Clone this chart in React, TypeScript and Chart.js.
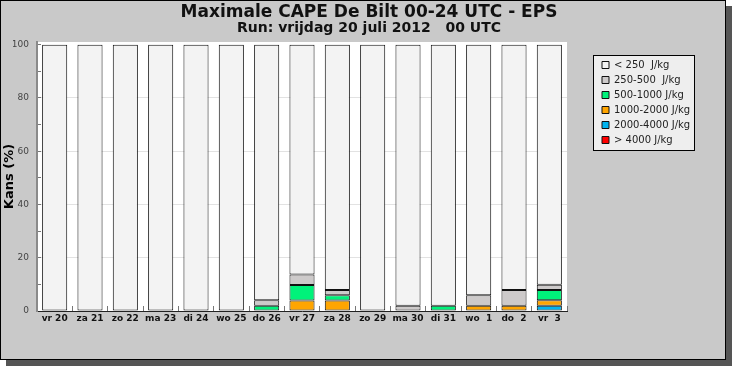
import React, { useEffect, useRef } from 'react';
import { Chart, registerables } from 'chart.js';

Chart.register(...registerables);

const categories = ['vr 20', 'za 21', 'zo 22', 'ma 23', 'di 24', 'wo 25', 'do 26', 'vr 27', 'za 28', 'zo 29', 'ma 30', 'di 31', 'wo  1', 'do  2', 'vr  3'];

const above4000 = [0, 0, 0, 0, 0, 0, 0, 0, 0, 0, 0, 0, 0, 0, 0];
const cape2000to4000 = [0, 0, 0, 0, 0, 0, 0, 0, 0, 0, 0, 0, 0, 0, 2];
const cape1000to2000 = [0, 0, 0, 0, 0, 0, 0, 3.9, 3.9, 0, 0, 0, 2, 2, 2];
const cape500to1000 = [0, 0, 0, 0, 0, 0, 2, 5.9, 2, 0, 0, 2, 0, 0, 3.9];
const cape250to500 = [0, 0, 0, 0, 0, 0, 2, 3.9, 2, 0, 2, 0, 3.9, 5.9, 2];
const below250 = [100, 100, 100, 100, 100, 100, 96, 86.3, 92.1, 100, 98, 98, 94.1, 92.1, 90.1];

const yTickValues = [0, 10, 20, 30, 40, 50, 60, 70, 80, 90, 100];

const seriesLabels = ['> 4000 J/kg', '2000-4000 J/kg', '1000-2000 J/kg', '500-1000 J/kg', '250-500  J/kg', '< 250  J/kg'];
const seriesColors = ['#ff0000', '#00b4f0', '#ffa500', '#00f27a', '#cdcaca', '#f3f3f3'];

const titleText = 'Maximale CAPE De Bilt 00-24 UTC - EPS';
const subtitleText = 'Run: vrijdag 20 juli 2012   00 UTC';
const yTitle = 'Kans (%)';

const framePlugin = {
  id: 'frame',
  afterLayout(chart: any) {
    const lg = chart.legend;
    const a = chart.chartArea;
    if (lg && a) {
      const w = lg.width;
      const h = lg.height;
      lg.left = a.right + 30;
      lg.top = a.top + 13;
      lg.right = lg.left + w;
      lg.bottom = lg.top + h;
    }
  },
  beforeDraw(chart: any) {
    const { ctx, chartArea: a } = chart;
    ctx.save();
    ctx.fillStyle = '#ffffff';
    ctx.fillRect(a.left, a.top, a.right - a.left, a.bottom - a.top);
    const lg = chart.legend;
    if (lg) {
      const x = lg.left - 4;
      const y = lg.top;
      ctx.fillStyle = '#eeeeee';
      ctx.fillRect(x, y, 102, 96);
      ctx.strokeStyle = '#000000';
      ctx.lineWidth = 1;
      ctx.strokeRect(x + 0.5, y + 0.5, 101, 95);
    }
    ctx.restore();
  },
};

export default function App() {
  const ref = useRef<HTMLCanvasElement | null>(null);

  useEffect(() => {
    if (!ref.current) return;
    const seriesData = [above4000, cape2000to4000, cape1000to2000, cape500to1000, cape250to500, below250];
    const chart = new Chart(ref.current, {
      type: 'bar',
      data: {
        labels: categories,
        datasets: seriesData.map((d, i) => ({
          label: seriesLabels[i],
          data: d,
          backgroundColor: seriesColors[i],
          borderColor: '#111111',
          borderWidth: 1,
          borderSkipped: false,
          categoryPercentage: 1,
          barPercentage: 0.71,
        })),
      },
      options: {
        responsive: false,
        animation: false,
        layout: { padding: { left: 12, right: 0, top: 0, bottom: 20 } },
        plugins: {
          title: {
            display: true,
            text: titleText,
            color: '#111',
            font: { family: '"DejaVu Sans", sans-serif', size: 17, weight: 'bold', lineHeight: 1.0 },
            padding: { top: 3, bottom: 0 },
          },
          subtitle: {
            display: true,
            text: subtitleText,
            color: '#111',
            font: { family: '"DejaVu Sans", sans-serif', size: 14, weight: 'bold', lineHeight: 1.0 },
            padding: { top: 0, bottom: 7 },
          },
          legend: {
            position: 'chartArea',
            align: 'start',
            reverse: true,
            labels: {
              boxWidth: 7,
              boxHeight: 7,
              padding: 5,
              color: '#222',
              font: { family: '"DejaVu Sans", sans-serif', size: 10 },
            },
          },
          tooltip: { enabled: false },
        },
        scales: {
          x: {
            stacked: true,
            afterFit: (s: any) => { s.height = 28; },
            grid: {
              offset: true,
              drawOnChartArea: false,
              drawTicks: true,
              tickLength: -5,
              tickColor: '#777',
            },
            border: { color: '#222', width: 1 },
            ticks: {
              color: '#111',
              padding: 7,
              autoSkip: false,
              maxRotation: 0,
              font: { family: '"DejaVu Sans", sans-serif', size: 9, weight: 'bold' },
            },
          },
          y: {
            stacked: true,
            min: 0,
            max: 101,
            afterFit: (s: any) => { s.width = 24; },
            afterBuildTicks: (s: any) => { s.ticks = yTickValues.map((v) => ({ value: v })); },
            grid: {
              color: (c: any) => (c.tick && c.tick.value % 20 === 0 && c.tick.value > 0 && c.tick.value < 100 ? '#e2e2e2' : 'rgba(0,0,0,0)'),
              tickColor: '#777',
              tickLength: -4,
              drawTicks: true,
            },
            border: { color: '#8a8a8a', width: 2 },
            ticks: {
              color: '#444',
              padding: 12,
              font: { family: '"DejaVu Sans", sans-serif', size: 9 },
              callback: (v: any) => (Number(v) % 20 === 0 ? String(v) : ''),
            },
            title: {
              display: true,
              text: yTitle,
              color: '#000',
              font: { family: '"DejaVu Sans", sans-serif', size: 13, weight: 'bold', lineHeight: 1.2 },
              padding: { top: -11, bottom: 0 },
            },
          },
          side: {
            type: 'linear',
            position: 'right',
            display: true,
            afterFit: (s: any) => { s.width = 158; },
            grid: { display: false },
            border: { display: false },
            ticks: { display: false },
          },
        },
      },
      plugins: [framePlugin],
    } as any);
    return () => chart.destroy();
  }, []);

  return (
    <div
      style={{
        position: 'absolute',
        left: 0,
        top: 0,
        width: 726,
        height: 360,
        boxSizing: 'border-box',
        border: '1px solid #000',
        background: '#c9c9c9',
        boxShadow: '6px 6px 0 #555',
      }}
    >
      <canvas ref={ref} width={724} height={358} style={{ position: 'absolute', left: 0, top: 0, width: 724, height: 358 }} />
    </div>
  );
}
